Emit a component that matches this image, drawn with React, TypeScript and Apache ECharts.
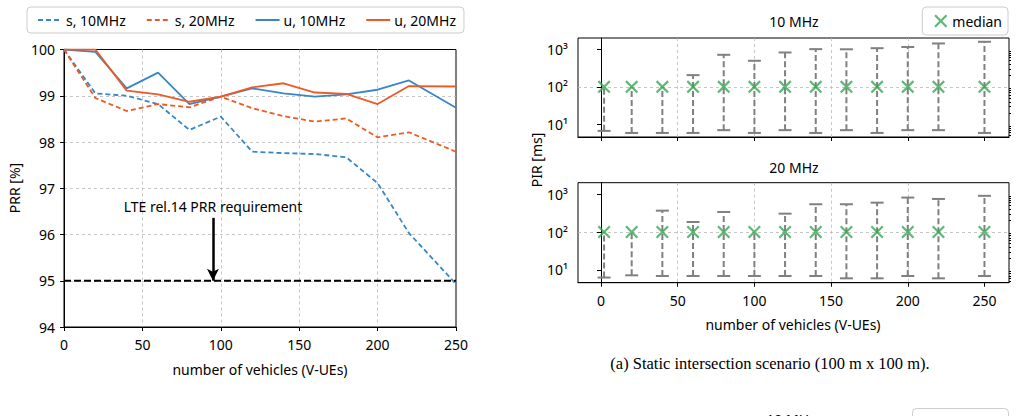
import React, { useEffect, useRef } from 'react';
import * as echarts from 'echarts';

// ---- Left chart: PRR vs number of vehicles ----
const xLeft = [0, 20, 40, 60, 80, 100, 120, 140, 160, 180, 200, 220, 250];
const s10 = [100, 99.05, 99.0, 98.82, 98.26, 98.55, 97.79, 97.76, 97.74, 97.67, 97.11, 96.03, 94.93];
const s20 = [100, 98.95, 98.67, 98.82, 98.75, 98.98, 98.73, 98.56, 98.44, 98.51, 98.1, 98.21, 97.79];
const u10 = [100, 99.95, 99.16, 99.5, 98.82, 98.98, 99.16, 99.05, 98.98, 99.03, 99.13, 99.33, 98.74];
const u20 = [100, 100, 99.11, 99.03, 98.87, 98.98, 99.18, 99.27, 99.07, 99.04, 98.82, 99.21, 99.2];
const requirement = 95;
const requirementRange = [0, 250];
const arrowX = 95;
const arrowFrom = 96.36;
const lineNames = ['s, 10MHz', 's, 20MHz', 'u, 10MHz', 'u, 20MHz'];

// ---- Right charts: PIR (log) ----
const xRight = [2, 20, 40, 60, 80, 100, 120, 140, 160, 180, 200, 220, 250];
const med10 = [100, 100, 100, 100, 100, 100, 100, 100, 100, 100, 100, 100, 100];
const lo10 = [6.7, 5.9, 5.9, 5.9, 7.0, 5.9, 7.0, 5.9, 7.0, 5.9, 7.0, 7.0, 5.9];
const hi10 = [100, 100, 100, 205, 713, 494, 822, 1010, 1000, 1070, 1150, 1430, 1585];
const med20 = [100, 100, 100, 100, 100, 100, 100, 100, 100, 100, 100, 100, 100];
const lo20 = [6.3, 7.2, 6.9, 6.9, 6.9, 6.9, 6.9, 6.9, 6.0, 6.0, 6.9, 6.0, 6.9];
const hi20 = [100, 100, 366, 184, 338, 100, 305, 540, 540, 595, 810, 745, 900];

const xTicksRight = [0, 50, 100, 150, 200, 250];
const logMajor = [10, 100, 1000];
const logMinor = [5, 6, 7, 8, 9, 20, 30, 40, 50, 60, 70, 80, 90, 200, 300, 400, 500, 600, 700, 800, 900];
const logLabels: Record<number, string> = { 10: '10¹', 100: '10²', 1000: '10³' };

const FONT = "'Noto Sans', sans-serif";
const FS = 14;
const BLUE = '#3787c8';
const ORANGE = '#ee5a24';
const GREEN = '#35a853';
const GRAY = '#808080';
const GRIDC = '#b8b8b8';
const XPATH = 'path://M0,1.2L1.2,0L5,3.8L8.8,0L10,1.2L6.2,5L10,8.8L8.8,10L5,6.2L1.2,10L0,8.8L3.8,5Z';

const splitDash = { show: true, showMinLine: false, showMaxLine: false, lineStyle: { color: GRIDC, type: [3, 3] as any, width: 0.8 } };
const blackLine = { show: true, lineStyle: { color: '#000', width: 1 } };
const tickOut = (len: number, extra: any = {}) => ({ show: true, inside: false, length: len, lineStyle: { color: '#000', width: 1 }, ...extra });
const lbl = (extra: any = {}) => ({ color: '#000', fontSize: FS, fontFamily: FONT, ...extra });

function errRender(params: any, api: any) {
  const x = api.value(0);
  const lo = api.value(1);
  const hi = api.value(2);
  const med = api.value(3);
  const pLo = api.coord([x, lo]);
  const pHi = api.coord([x, hi]);
  const cw = 6.5;
  const children: any[] = [
    { type: 'line', shape: { x1: pLo[0], y1: pLo[1], x2: pHi[0], y2: pHi[1] }, style: { stroke: GRAY, lineWidth: 2, lineDash: [6, 3] } },
    { type: 'line', shape: { x1: pLo[0] - cw, y1: pLo[1], x2: pLo[0] + cw, y2: pLo[1] }, style: { stroke: GRAY, lineWidth: 2 } },
  ];
  if (hi > med) {
    children.push({ type: 'line', shape: { x1: pHi[0] - cw, y1: pHi[1], x2: pHi[0] + cw, y2: pHi[1] }, style: { stroke: GRAY, lineWidth: 2 } });
  }
  return { type: 'group', children };
}

function rightX(gridIndex: number, showLabels: boolean) {
  return {
    gridIndex, type: 'value', min: -15, max: 266,
    axisLine: blackLine,
    axisTick: tickOut(4, { customValues: xTicksRight }),
    axisLabel: lbl({ show: showLabels, customValues: xTicksRight, margin: 11 }),
    splitLine: splitDash,
  };
}
function rightY(gridIndex: number) {
  return {
    gridIndex, type: 'log', logBase: 10, min: 4.6, max: 2000,
    axisLine: blackLine,
    axisTick: tickOut(4, { customValues: logMajor }),
    axisLabel: lbl({ customValues: logMajor, margin: 10, formatter: (v: number) => logLabels[Math.round(v)] || '' }),
    splitLine: splitDash,
  };
}
function rightYMinor(gridIndex: number) {
  return {
    gridIndex, type: 'log', logBase: 10, min: 4.6, max: 2000,
    axisLine: { show: false },
    axisTick: tickOut(2, { customValues: logMinor }),
    axisLabel: { show: false },
    splitLine: { show: false },
  };
}

export default function App() {
  const ref = useRef<HTMLDivElement>(null);
  useEffect(() => {
    const chart = echarts.init(ref.current!, null, { renderer: 'svg' });
    const lineSeries = [
      { name: lineNames[0], data: s10, color: BLUE, dash: [5, 3] },
      { name: lineNames[1], data: s20, color: ORANGE, dash: [5, 3] },
      { name: lineNames[2], data: u10, color: BLUE, dash: 'solid' },
      { name: lineNames[3], data: u20, color: ORANGE, dash: 'solid' },
    ].map((s) => ({
      name: s.name, type: 'line', xAxisIndex: 0, yAxisIndex: 0,
      data: xLeft.map((x, i) => [x, s.data[i]]),
      symbol: 'none', showSymbol: false,
      color: s.color,
      lineStyle: { color: s.color, width: 1.8, type: s.dash as any },
      z: 3,
    }));
    const option: any = {
      animation: false,
      backgroundColor: '#fff',
      textStyle: { fontFamily: FONT },
      grid: [
        { left: 64, top: 49.5, width: 392, height: 277.5, show: true, borderColor: '#000', borderWidth: 1, containLabel: false },
        { left: 578, top: 38, width: 431, height: 99, show: true, borderColor: '#000', borderWidth: 1, containLabel: false },
        { left: 578, top: 182.7, width: 431, height: 100, show: true, borderColor: '#000', borderWidth: 1, containLabel: false },
      ],
      legend: [
        {
          data: lineNames, left: 27, top: 7, orient: 'horizontal',
          itemWidth: 24, itemHeight: 14, itemGap: 20,
          padding: [6, 8, 6, 10], borderColor: '#cccccc', borderWidth: 1, borderRadius: 4, backgroundColor: '#fff',
          itemStyle: { opacity: 0 },
          textStyle: { color: '#000', fontSize: FS, fontFamily: FONT, padding: [0, 0, 0, -1] },
          selectedMode: false,
        },
        {
          data: [{ name: 'median', icon: XPATH }], right: 8, top: 7,
          itemWidth: 13, itemHeight: 13, itemGap: 8,
          padding: [7, 6, 7, 12], borderColor: '#cccccc', borderWidth: 1, borderRadius: 4, backgroundColor: '#fff',
          textStyle: { color: '#000', fontSize: FS, fontFamily: FONT },
          selectedMode: false,
        },
      ],
      xAxis: [
        {
          gridIndex: 0, type: 'value', min: 0, max: 250, interval: 50,
          axisLine: blackLine, axisTick: tickOut(4), axisLabel: lbl({ margin: 10 }), splitLine: splitDash,
        },
        rightX(1, false),
        rightX(2, true),
      ],
      yAxis: [
        {
          gridIndex: 0, type: 'value', min: 94, max: 100, interval: 1,
          axisLine: blackLine, axisTick: tickOut(4), axisLabel: lbl({ margin: 9 }), splitLine: splitDash,
        },
        rightY(1),
        rightY(2),
        rightYMinor(1),
        rightYMinor(2),
      ],
      series: [
        ...lineSeries,
        {
          name: 'req', type: 'line', xAxisIndex: 0, yAxisIndex: 0,
          data: requirementRange.map((x) => [x, requirement]),
          symbol: 'none', showSymbol: false,
          lineStyle: { color: '#000', width: 2, type: [7, 3] },
          z: 4,
          markLine: {
            silent: true, symbol: ['none', 'arrow'], symbolSize: [9, 12],
            lineStyle: { color: '#000', width: 2.5, type: 'solid' },
            label: { show: true, position: 'start', formatter: 'LTE rel.14 PRR requirement', color: '#000', fontSize: FS, fontFamily: FONT, distance: 4 },
            data: [[{ coord: [arrowX, arrowFrom] }, { coord: [arrowX, requirement] }]],
          },
        },
        {
          name: 'err10', type: 'custom', xAxisIndex: 1, yAxisIndex: 1,
          renderItem: errRender,
          data: xRight.map((x, i) => [x, lo10[i], hi10[i], med10[i]]),
          encode: { x: 0, y: [1, 2, 3] }, z: 2,
        },
        {
          name: 'median', type: 'scatter', xAxisIndex: 1, yAxisIndex: 1,
          data: xRight.map((x, i) => [x, med10[i]]),
          symbol: XPATH, symbolSize: 13, itemStyle: { color: GREEN }, z: 5,
        },
        {
          name: 'err20', type: 'custom', xAxisIndex: 2, yAxisIndex: 2,
          renderItem: errRender,
          data: xRight.map((x, i) => [x, lo20[i], hi20[i], med20[i]]),
          encode: { x: 0, y: [1, 2, 3] }, z: 2,
        },
        {
          name: 'median', type: 'scatter', xAxisIndex: 2, yAxisIndex: 2,
          data: xRight.map((x, i) => [x, med20[i]]),
          symbol: XPATH, symbolSize: 13, itemStyle: { color: GREEN }, z: 5,
        },
      ],
      graphic: [
        { type: 'text', x: 14, y: 188, rotation: Math.PI / 2, style: { text: 'PRR [%]', fill: '#000', font: `${FS}px ${FONT}`, textAlign: 'center', textVerticalAlign: 'middle' } },
        { type: 'text', x: 260, y: 369, style: { text: 'number of vehicles (V-UEs)', fill: '#000', font: `${FS}px ${FONT}`, textAlign: 'center', textVerticalAlign: 'middle' } },
        { type: 'text', x: 794, y: 21, style: { text: '10 MHz', fill: '#000', font: `${FS}px ${FONT}`, textAlign: 'center', textVerticalAlign: 'middle' } },
        { type: 'text', x: 794, y: 167, style: { text: '20 MHz', fill: '#000', font: `${FS}px ${FONT}`, textAlign: 'center', textVerticalAlign: 'middle' } },
        { type: 'text', x: 536, y: 160, rotation: Math.PI / 2, style: { text: 'PIR [ms]', fill: '#000', font: `${FS}px ${FONT}`, textAlign: 'center', textVerticalAlign: 'middle' } },
        { type: 'text', x: 793, y: 324, style: { text: 'number of vehicles (V-UEs)', fill: '#000', font: `${FS}px ${FONT}`, textAlign: 'center', textVerticalAlign: 'middle' } },
        { type: 'text', x: 770, y: 363, style: { text: '(a) Static intersection scenario (100 m x 100 m).', fill: '#000', font: `16.5px 'Liberation Serif', serif`, textAlign: 'center', textVerticalAlign: 'middle' } },
        { type: 'text', x: 791, y: 412, style: { text: '10 MHz', fill: '#000', font: `${FS}px ${FONT}`, textAlign: 'center', textVerticalAlign: 'top' } },
        { type: 'rect', shape: { x: 912.5, y: 408.5, width: 96, height: 28, r: 4 }, style: { fill: '#fff', stroke: '#cccccc', lineWidth: 1 } },
      ],
    };
    chart.setOption(option);
    return () => chart.dispose();
  }, []);
  return <div ref={ref} style={{ position: 'fixed', left: 0, top: 0, width: 1016, height: 416, background: '#fff' }} />;
}
